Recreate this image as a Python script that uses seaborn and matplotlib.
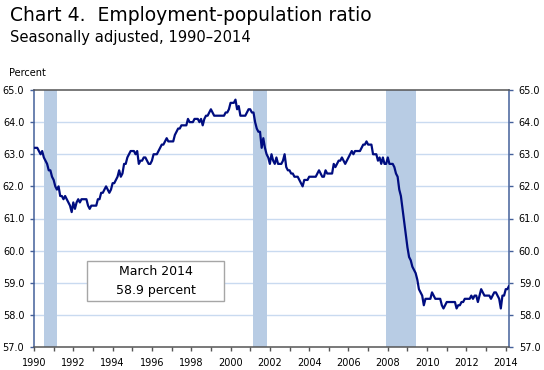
import numpy as np
import pandas as pd
import matplotlib
matplotlib.use("Agg")
import matplotlib.pyplot as plt
import seaborn as sns
from matplotlib.patches import Rectangle

# ---- data (monthly, Jan 1990 - Mar 2014) ----
y1990 = [63.2, 63.2, 63.2, 63.1, 63.0, 63.1, 62.9, 62.8, 62.7, 62.5, 62.5, 62.3]
y1991 = [62.2, 62.0, 61.9, 62.0, 61.7, 61.7, 61.6, 61.7, 61.6, 61.5, 61.4, 61.2]
y1992 = [61.5, 61.3, 61.5, 61.6, 61.5, 61.6, 61.6, 61.6, 61.6, 61.4, 61.3, 61.4]
y1993 = [61.4, 61.4, 61.4, 61.6, 61.6, 61.8, 61.8, 61.9, 62.0, 61.9, 61.8, 61.9]
y1994 = [62.1, 62.1, 62.2, 62.3, 62.5, 62.3, 62.4, 62.7, 62.7, 62.9, 63.0, 63.1]
y1995 = [63.1, 63.1, 63.0, 63.1, 62.7, 62.8, 62.8, 62.9, 62.9, 62.8, 62.7, 62.7]
y1996 = [62.8, 63.0, 63.0, 63.0, 63.1, 63.2, 63.3, 63.3, 63.4, 63.5, 63.4, 63.4]
y1997 = [63.4, 63.4, 63.6, 63.7, 63.8, 63.8, 63.9, 63.9, 63.9, 63.9, 64.1, 64.0]
y1998 = [64.0, 64.0, 64.1, 64.1, 64.1, 64.0, 64.1, 63.9, 64.1, 64.2, 64.2, 64.3]
y1999 = [64.4, 64.3, 64.2, 64.2, 64.2, 64.2, 64.2, 64.2, 64.2, 64.3, 64.3, 64.4]
y2000 = [64.6, 64.6, 64.6, 64.7, 64.4, 64.5, 64.2, 64.2, 64.2, 64.2, 64.3, 64.4]
y2001 = [64.4, 64.3, 64.3, 64.0, 63.8, 63.7, 63.7, 63.2, 63.5, 63.2, 63.0, 62.9]
y2002 = [62.7, 63.0, 62.8, 62.7, 62.9, 62.7, 62.7, 62.7, 62.8, 63.0, 62.6, 62.5]
y2003 = [62.5, 62.4, 62.4, 62.3, 62.3, 62.3, 62.2, 62.1, 62.0, 62.2, 62.2, 62.2]
y2004 = [62.3, 62.3, 62.3, 62.3, 62.3, 62.4, 62.5, 62.4, 62.3, 62.3, 62.5, 62.4]
y2005 = [62.4, 62.4, 62.4, 62.7, 62.6, 62.7, 62.8, 62.8, 62.9, 62.8, 62.7, 62.8]
y2006 = [62.9, 63.0, 63.1, 63.0, 63.1, 63.1, 63.1, 63.1, 63.2, 63.3, 63.3, 63.4]
y2007 = [63.3, 63.3, 63.3, 63.0, 63.0, 63.0, 62.8, 62.9, 62.7, 62.9, 62.7, 62.7]
y2008 = [62.9, 62.7, 62.7, 62.7, 62.6, 62.4, 62.3, 61.9, 61.7, 61.3, 60.9, 60.5]
y2009 = [60.1, 59.8, 59.7, 59.5, 59.4, 59.3, 59.1, 58.8, 58.7, 58.6, 58.3, 58.5]
y2010 = [58.5, 58.5, 58.5, 58.7, 58.6, 58.5, 58.5, 58.5, 58.5, 58.3, 58.2, 58.3]
y2011 = [58.4, 58.4, 58.4, 58.4, 58.4, 58.4, 58.2, 58.3, 58.3, 58.4, 58.4, 58.5]
y2012 = [58.5, 58.5, 58.5, 58.6, 58.5, 58.6, 58.6, 58.4, 58.6, 58.8, 58.7, 58.6]
y2013 = [58.6, 58.6, 58.6, 58.5, 58.6, 58.7, 58.7, 58.6, 58.5, 58.2, 58.6, 58.6]
y2014 = [58.8, 58.8, 58.9]

ratio = (y1990 + y1991 + y1992 + y1993 + y1994 + y1995 + y1996 + y1997 + y1998 +
         y1999 + y2000 + y2001 + y2002 + y2003 + y2004 + y2005 + y2006 + y2007 +
         y2008 + y2009 + y2010 + y2011 + y2012 + y2013 + y2014)

# recessions (start month, end month)
recession_start = ["1990-07", "2001-03", "2007-12"]
recession_end = ["1991-03", "2001-11", "2009-06"]

y_ticks = [57.0, 58.0, 59.0, 60.0, 61.0, 62.0, 63.0, 64.0, 65.0]
x_major = list(range(1990, 2015, 2))
x_minor = list(range(1991, 2014, 2))

title = "Chart 4.  Employment-population ratio"
subtitle = "Seasonally adjusted, 1990\u20132014"
ylabel = "Percent"
note_lines = ["March 2014", "58.9 percent"]

# ---- build frame ----
dates = pd.date_range("1990-01-01", periods=len(ratio), freq="MS")
df = pd.DataFrame({"year": dates.year + (dates.month - 1) / 12.0, "ratio": ratio})

def dec(s):
    d = pd.Timestamp(s + "-01")
    return d.year + (d.month - 1) / 12.0

sns.set_style("white")
plt.rcParams["font.family"] = ["DejaVu Sans"]
plt.rcParams["text.color"] = "black"

fig = plt.figure(figsize=(5.44, 3.70), dpi=100)
ax = fig.add_axes([34 / 544, 1 - 347 / 370, 475 / 544, 257 / 370])

for s, e in zip(recession_start, recession_end):
    ax.axvspan(dec(s), dec(e), color="#b8cce4", lw=0, zorder=1)

for yv in y_ticks[1:-1]:
    ax.axhline(yv, color="#c9daf0", lw=1.0, zorder=0.5)

sns.lineplot(data=df, x="year", y="ratio", ax=ax, color="#000d80", lw=1.6,
             zorder=3, legend=False)

ax.set_xlim(df["year"].iloc[0], df["year"].iloc[-1])
ax.set_ylim(57, 65)
ax.set_xticks(x_major)
ax.set_xticks(x_minor, minor=True)
ax.set_xticklabels([str(v) for v in x_major])
ax.set_yticks(y_ticks)
ax.set_yticklabels([f"{v:.1f}" for v in y_ticks])
ax.set_xlabel("")
ax.set_ylabel("")

ax.tick_params(axis="y", which="both", left=True, right=True, labelleft=True,
               labelright=True, length=3, width=1, color="#44609a",
               labelsize=7, pad=4, labelcolor="black")
ax.tick_params(axis="x", which="both", bottom=True, length=3, width=1,
               color="#555555", labelsize=7, pad=5, labelcolor="black")

for side in ["left", "right"]:
    ax.spines[side].set_color("#44609a")
    ax.spines[side].set_linewidth(1.1)
for side in ["top", "bottom"]:
    ax.spines[side].set_color("#555555")
    ax.spines[side].set_linewidth(1.1)
    ax.spines[side].set_visible(True)

# note box
ax.add_patch(Rectangle((0.1116, 0.179), 0.2884, 0.1556, transform=ax.transAxes,
                       facecolor="white", edgecolor="#a6a6a6", lw=1.0, zorder=4))
ax.text(0.2558, 0.293, note_lines[0], transform=ax.transAxes, ha="center",
        va="center", fontsize=9, zorder=5, color="black")
ax.text(0.2558, 0.218, note_lines[1], transform=ax.transAxes, ha="center",
        va="center", fontsize=9, zorder=5, color="black")

fig.text(10 / 544, 1 - 21 / 370, title, fontsize=13.5, va="baseline", ha="left",
         color="black")
fig.text(10 / 544, 1 - 41.7 / 370, subtitle, fontsize=10.6, va="baseline",
         ha="left", color="black")
fig.text(9 / 544, 1 - 76.5 / 370, ylabel, fontsize=7, va="baseline", ha="left",
         color="black")

fig.savefig("out.png", dpi=100)
